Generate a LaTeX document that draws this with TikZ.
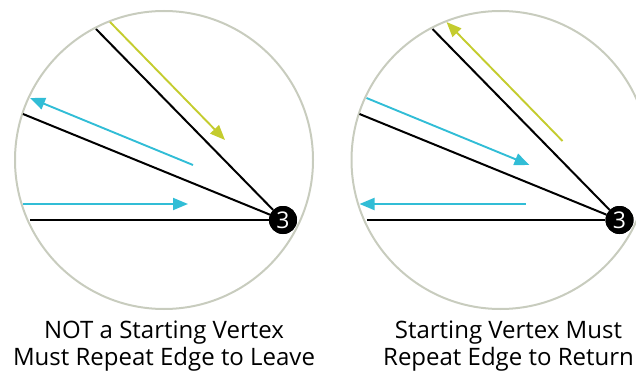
\documentclass[tikz,border=0pt]{standalone}
\usepackage{fontspec}
\setmainfont{Open Sans}
\usetikzlibrary{arrows.meta}
\definecolor{rimgray}{HTML}{C8CCBE}
\definecolor{walkblue}{HTML}{31BDD6}
\definecolor{walkyellow}{HTML}{C4CC2E}
\tikzset{
  rim/.style={draw=rimgray,line width=2pt},
  edge/.style={draw=black,line width=2pt},
  walk/.style={line width=1.9pt,-{Triangle[length=15pt,width=12pt]}},
  vertex/.style={circle,fill=black,text=white,minimum size=28pt,inner sep=0pt,font=\fontsize{23}{23}\selectfont},
  caption/.style={align=center,font=\fontsize{24}{27}\selectfont}
}

\begin{document}
\begin{tikzpicture}[x=1pt,y=-1pt]
\useasboundingbox (0,0) rectangle (636,374);
% ---------- left: not a starting vertex ----------
\begin{scope}
\draw[rim] (164,160) circle (149);
\node[vertex] (v) at (283,220) {3};
\coordinate (e1) at (30,220);
\coordinate (e2) at (23,114);
\coordinate (e3) at (96,29);
\foreach \e in {e1,e2,e3}{
  \draw[edge] (v) -- (\e);
}
\node[vertex] at (v) {3};
% 进出的走向
\coordinate (a1) at (23,204);  \coordinate (b1) at (188,204);
\coordinate (a2) at (193,165); \coordinate (b2) at (30,98);
\coordinate (a3) at (110,22);  \coordinate (b3) at (225,140);
\draw[walk,walkblue] (a1) -- (b1);
\draw[walk,walkblue] (a2) -- (b2);
\draw[walk,walkyellow] (a3) -- (b3);
\node[caption] (capL) at (164,346) {NOT a Starting Vertex\\Must Repeat Edge to Leave};
\end{scope}
% ---------- right: starting vertex ----------
\begin{scope}[shift={(336.5,0)}]
\draw[rim] (164,160) circle (149);
\node[vertex] (w) at (283,220) {3};
\coordinate (f1) at (30,220);
\coordinate (f2) at (23,114);
\coordinate (f3) at (96,29);
\foreach \e in {f1,f2,f3}{
  \draw[edge] (w) -- (\e);
}
\node[vertex] at (w) {3};
\coordinate (c1) at (189,204); \coordinate (d1) at (23,204);
\coordinate (c2) at (30,98);   \coordinate (d2) at (193,165);
\coordinate (c3) at (226,141); \coordinate (d3) at (110,22);
\draw[walk,walkblue] (c1) -- (d1);
\draw[walk,walkblue] (c2) -- (d2);
\draw[walk,walkyellow] (c3) -- (d3);
\node[caption] (capR) at (172,346) {Starting Vertex Must\\Repeat Edge to Return};
\end{scope}
\end{tikzpicture}
\end{document}
